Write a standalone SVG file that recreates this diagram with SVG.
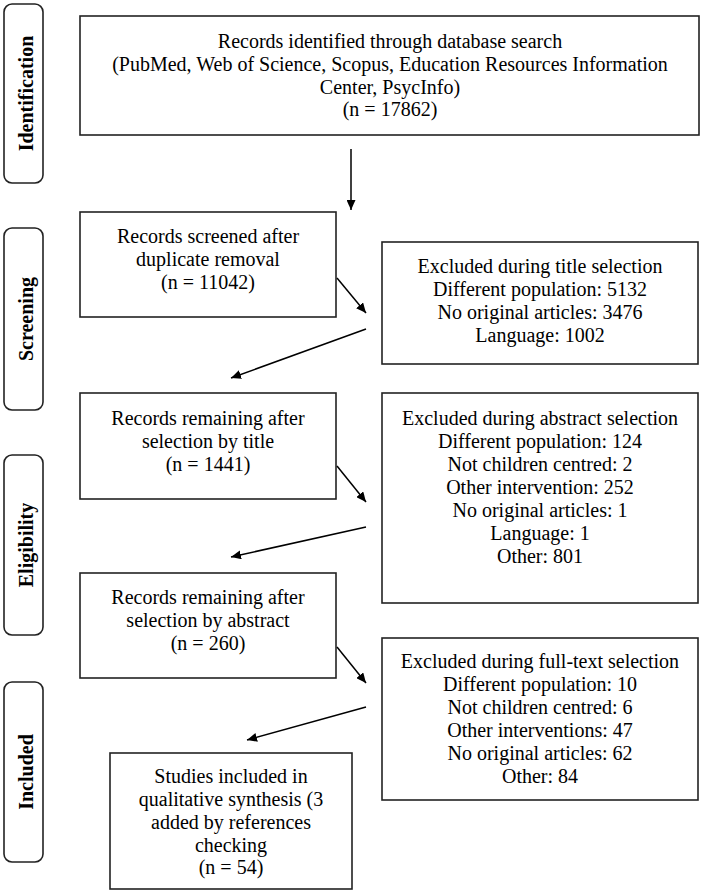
<svg xmlns="http://www.w3.org/2000/svg" width="702" height="894" viewBox="0 0 702 894">
<style>
.box{fill:#fff;stroke:#222;stroke-width:1.6}
.lab{fill:#fff;stroke:#222;stroke-width:1.6}
text{font-family:"Liberation Serif","Times New Roman",serif;font-size:20px;fill:#000;text-anchor:middle}
.side{font-weight:bold}
.conn{stroke:#000;stroke-width:1.5;fill:none;marker-end:url(#ah)}
</style>
<defs>
<marker id="ah" viewBox="0 0 10 10" refX="10" refY="5" markerWidth="10" markerHeight="9" markerUnits="userSpaceOnUse" orient="auto" preserveAspectRatio="none">
<path d="M0,0 L10,5 L0,10 z" fill="#000"/>
</marker>
</defs>
<rect width="702" height="894" fill="#fff"/>
<g id="lab-identification"><rect class="lab" x="4" y="4" width="39" height="179" rx="8"/><text class="side" transform="translate(33,93.5) rotate(-90)">Identification</text></g>
<g id="lab-screening"><rect class="lab" x="4" y="228" width="39" height="182" rx="8"/><text class="side" transform="translate(33,319) rotate(-90)">Screening</text></g>
<g id="lab-eligibility"><rect class="lab" x="4" y="455" width="39" height="180" rx="8"/><text class="side" transform="translate(33,545) rotate(-90)">Eligibility</text></g>
<g id="lab-included"><rect class="lab" x="4" y="682" width="39" height="180" rx="8"/><text class="side" transform="translate(33,772) rotate(-90)">Included</text></g>

<g id="identified"><rect class="box" x="80" y="16" width="619" height="119"/>
<text x="390" y="48">Records identified through database search</text>
<text x="390" y="71">(PubMed, Web of Science, Scopus, Education Resources Information</text>
<text x="390" y="94">Center, PsycInfo)</text>
<text x="390" y="116">(n = 17862)</text></g>

<g id="screened"><rect class="box" x="80" y="212" width="256" height="105"/>
<text x="208" y="243">Records screened after</text>
<text x="208" y="266">duplicate removal</text>
<text x="208" y="289">(n = 11042)</text></g>

<g id="excl-title"><rect class="box" x="382" y="242" width="316" height="122"/>
<text x="540" y="273">Excluded during title selection</text>
<text x="540" y="296">Different population: 5132</text>
<text x="540" y="319">No original articles: 3476</text>
<text x="540" y="342">Language: 1002</text></g>

<g id="after-title"><rect class="box" x="80" y="393" width="256" height="106"/>
<text x="208" y="425">Records remaining after</text>
<text x="208" y="448">selection by title</text>
<text x="208" y="471">(n = 1441)</text></g>

<g id="excl-abstract"><rect class="box" x="382" y="393" width="316" height="210"/>
<text x="540" y="425">Excluded during abstract selection</text>
<text x="540" y="448">Different population: 124</text>
<text x="540" y="471">Not children centred: 2</text>
<text x="540" y="494">Other intervention: 252</text>
<text x="540" y="517">No original articles: 1</text>
<text x="540" y="540">Language: 1</text>
<text x="540" y="563">Other: 801</text></g>

<g id="after-abstract"><rect class="box" x="80" y="573" width="256" height="105"/>
<text x="208" y="604">Records remaining after</text>
<text x="208" y="627">selection by abstract</text>
<text x="208" y="650">(n = 260)</text></g>

<g id="excl-fulltext"><rect class="box" x="382" y="638" width="316" height="162"/>
<text x="540" y="668">Excluded during full-text selection</text>
<text x="540" y="691">Different population: 10</text>
<text x="540" y="714">Not children centred: 6</text>
<text x="540" y="737">Other interventions: 47</text>
<text x="540" y="760">No original articles: 62</text>
<text x="540" y="783">Other: 84</text></g>

<g id="included"><rect class="box" x="110" y="753" width="242" height="136"/>
<text x="231" y="783">Studies included in</text>
<text x="231" y="806">qualitative synthesis (3</text>
<text x="231" y="829">added by references</text>
<text x="231" y="852">checking</text>
<text x="231" y="874">(n = 54)</text></g>

<g id="connectors">
<line class="conn" x1="351" y1="149" x2="351" y2="210"/>
<line class="conn" x1="337" y1="278" x2="366" y2="313"/>
<line class="conn" x1="366" y1="329" x2="231" y2="378"/>
<line class="conn" x1="337" y1="466" x2="366" y2="502"/>
<line class="conn" x1="366" y1="527" x2="231" y2="557"/>
<line class="conn" x1="337" y1="647" x2="366" y2="683"/>
<line class="conn" x1="366" y1="707" x2="247" y2="740"/>
</g>
</svg>
